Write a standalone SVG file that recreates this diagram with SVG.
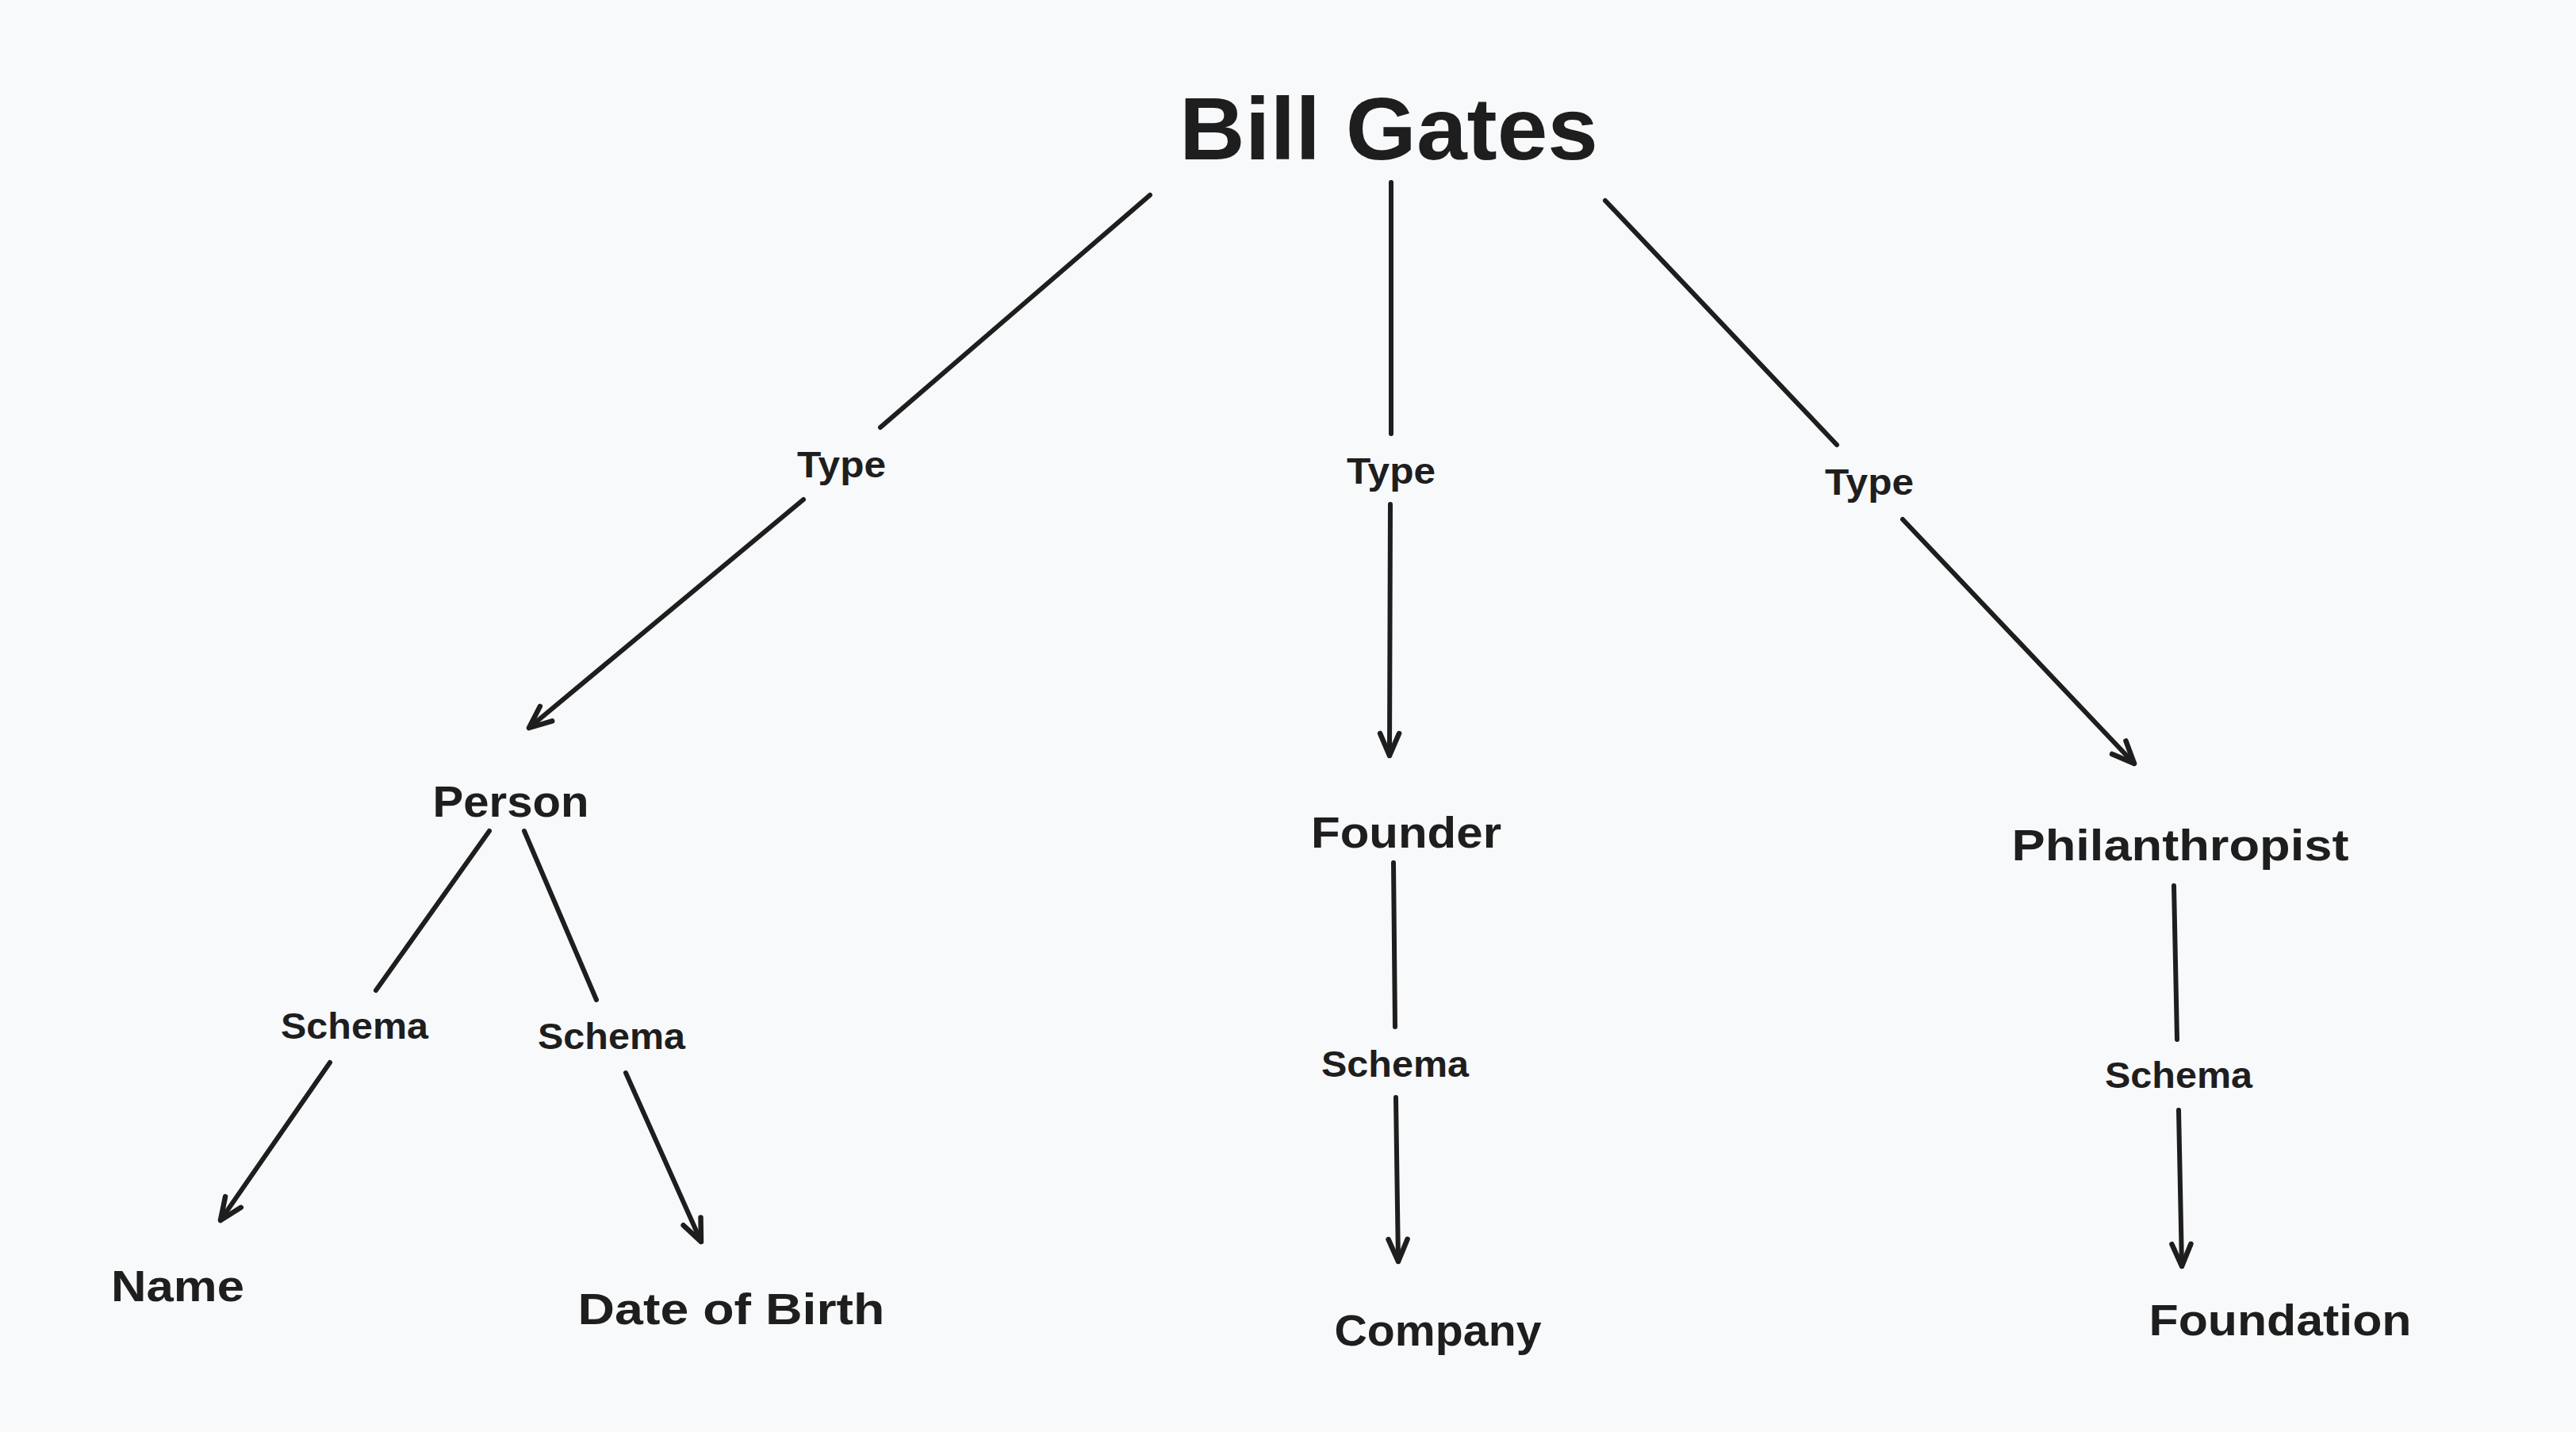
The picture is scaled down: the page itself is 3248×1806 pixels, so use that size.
<svg xmlns="http://www.w3.org/2000/svg" width="3248" height="1806" viewBox="0 0 3248 1806">
<style>
.bg{fill:#f8f9fb}
.edge{stroke:#1e1e1e;stroke-width:6;fill:none;stroke-linecap:round;stroke-linejoin:round}
.t{font-family:"Liberation Sans",Arial,sans-serif;fill:#1e1e1e;text-anchor:middle;font-weight:bold}
.title{font-size:112px}
.node{font-size:56px}
.lbl{font-size:46px}
</style>
<defs>
<marker id="ah" markerUnits="userSpaceOnUse" markerWidth="60" markerHeight="60" refX="0" refY="0" viewBox="-40 -30 60 60" orient="auto" overflow="visible">
<path d="M-28,-12 L0,0 L-28,12" fill="none" stroke="#1e1e1e" stroke-width="6.5" stroke-linecap="round" stroke-linejoin="round"/>
</marker>
</defs>
<rect class="bg" x="0" y="0" width="3248" height="1806"/>
<g id="connectors">
<path class="edge" d="M1450,246 L1110,539"/>
<path class="edge" d="M1013,630 L667,918" marker-end="url(#ah)"/>
<path class="edge" d="M1754,230 L1754,547"/>
<path class="edge" d="M1753,636 L1752,953" marker-end="url(#ah)"/>
<path class="edge" d="M2024,253 L2316,561"/>
<path class="edge" d="M2399,655 L2691,963" marker-end="url(#ah)"/>
<path class="edge" d="M617,1048 L474,1249"/>
<path class="edge" d="M416,1340 L278,1539" marker-end="url(#ah)"/>
<path class="edge" d="M661,1048 L752,1261"/>
<path class="edge" d="M789,1353 L884,1566" marker-end="url(#ah)"/>
<path class="edge" d="M1757,1088 L1759,1295"/>
<path class="edge" d="M1760,1384 L1763,1591" marker-end="url(#ah)"/>
<path class="edge" d="M2741,1117 L2745,1311"/>
<path class="edge" d="M2747,1400 L2751,1597" marker-end="url(#ah)"/>
<text class="t lbl" x="1061" y="602" textLength="112" lengthAdjust="spacingAndGlyphs">Type</text>
<text class="t lbl" x="1754" y="610" textLength="112" lengthAdjust="spacingAndGlyphs">Type</text>
<text class="t lbl" x="2357" y="624" textLength="112" lengthAdjust="spacingAndGlyphs">Type</text>
<text class="t lbl" x="447" y="1310" textLength="186" lengthAdjust="spacingAndGlyphs">Schema</text>
<text class="t lbl" x="771" y="1323" textLength="186" lengthAdjust="spacingAndGlyphs">Schema</text>
<text class="t lbl" x="1759" y="1358" textLength="186" lengthAdjust="spacingAndGlyphs">Schema</text>
<text class="t lbl" x="2747" y="1372" textLength="186" lengthAdjust="spacingAndGlyphs">Schema</text>
</g>
<g id="bill-gates"><text class="t title" x="1751" y="201" textLength="528" lengthAdjust="spacingAndGlyphs">Bill Gates</text></g>
<g id="person"><text class="t node" x="644" y="1030" textLength="197" lengthAdjust="spacingAndGlyphs">Person</text></g>
<g id="founder"><text class="t node" x="1773" y="1069" textLength="240" lengthAdjust="spacingAndGlyphs">Founder</text></g>
<g id="philanthropist"><text class="t node" x="2749" y="1085" textLength="425" lengthAdjust="spacingAndGlyphs">Philanthropist</text></g>
<g id="name"><text class="t node" x="224" y="1641" textLength="168" lengthAdjust="spacingAndGlyphs">Name</text></g>
<g id="date-of-birth"><text class="t node" x="922" y="1670" textLength="387" lengthAdjust="spacingAndGlyphs">Date of Birth</text></g>
<g id="company"><text class="t node" x="1813" y="1697" textLength="261" lengthAdjust="spacingAndGlyphs">Company</text></g>
<g id="foundation"><text class="t node" x="2875" y="1684" textLength="331" lengthAdjust="spacingAndGlyphs">Foundation</text></g>
</svg>
